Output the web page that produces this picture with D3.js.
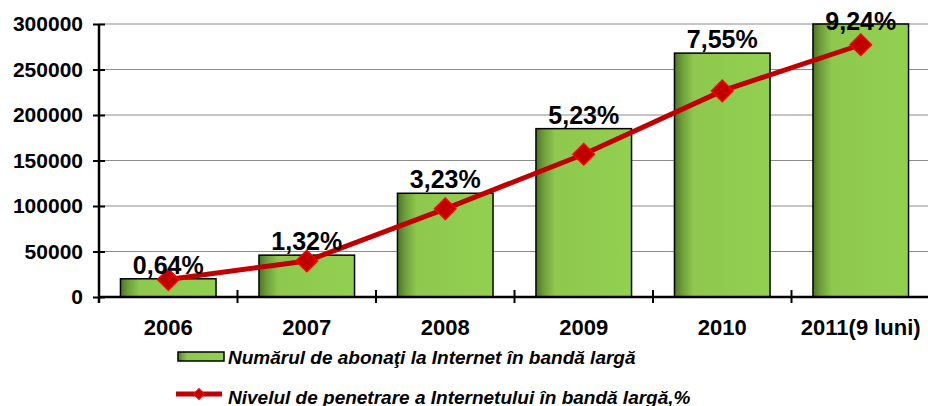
<!DOCTYPE html>
<html>
<head>
<meta charset="utf-8">
<script src="https://cdn.jsdelivr.net/npm/d3@7"></script>
<style>
  body { margin: 0; background: #fff; }
  svg { display: block; font-family: Arial, "Liberation Sans", sans-serif; }
</style>
</head>
<body>
<script>
const years = ["2006", "2007", "2008", "2009", "2010", "2011(9 luni)"];
const subscribers = [20000, 46000, 114000, 185000, 268000, 300000];
const penetration = [0.64, 1.32, 3.23, 5.23, 7.55, 9.24];
const penetrationLabels = ["0,64%", "1,32%", "3,23%", "5,23%", "7,55%", "9,24%"];
const yTicks = [0, 50000, 100000, 150000, 200000, 250000, 300000];
const legendLabels = [
  "Numărul de abonaţi la Internet în bandă largă",
  "Nivelul de penetrare a Internetului în bandă largă,%"
];

const width = 928;
const height = 406;
const margin = { top: 24, right: -2, bottom: 109, left: 99 };

const svg = d3.select("body")
  .append("svg")
  .attr("width", width)
  .attr("height", height);

const x = d3.scaleBand()
  .domain(years)
  .range([margin.left, width - margin.right])
  .paddingInner(0.31)
  .paddingOuter(0.155);

const y = d3.scaleLinear()
  .domain([0, 300000])
  .range([height - margin.bottom, margin.top]);

const y2 = d3.scaleLinear()
  .domain([0, 10])
  .range([height - margin.bottom, margin.top]);

// gradient for bars
const grad = svg.append("defs").append("linearGradient")
  .attr("id", "barGrad")
  .attr("x1", "0%").attr("x2", "100%")
  .attr("y1", "0%").attr("y2", "0%");
grad.append("stop").attr("offset", "0%").attr("stop-color", "#4a7428");
grad.append("stop").attr("offset", "8%").attr("stop-color", "#6e9e3a");
grad.append("stop").attr("offset", "20%").attr("stop-color", "#8ec84e");
grad.append("stop").attr("offset", "100%").attr("stop-color", "#92d050");

// gridlines
svg.append("g")
  .selectAll("line")
  .data(yTicks.slice(1))
  .join("line")
  .attr("x1", margin.left)
  .attr("x2", width)
  .attr("y1", d => y(d))
  .attr("y2", d => y(d))
  .attr("stroke", "#8c8c8c")
  .attr("stroke-width", 1);

// bars
svg.append("g")
  .selectAll("rect")
  .data(subscribers)
  .join("rect")
  .attr("x", (d, i) => x(years[i]))
  .attr("y", d => y(d))
  .attr("width", x.bandwidth())
  .attr("height", d => y(0) - y(d))
  .attr("fill", "url(#barGrad)")
  .attr("stroke", "#000")
  .attr("stroke-width", 1.5);

// y axis
const yAxis = svg.append("g")
  .attr("transform", `translate(${margin.left},0)`)
  .call(d3.axisLeft(y).tickValues(yTicks).tickFormat(d3.format("d"))
    .tickSize(6).tickSizeOuter(0).tickPadding(12));
yAxis.select(".domain").attr("stroke-width", 2.5).attr("d", `M0,${margin.top}V${y(0) + 6}`);
yAxis.selectAll(".tick line").attr("x2", -6).attr("x1", 6).attr("stroke-width", 2);
yAxis.selectAll(".tick text")
  .attr("font-size", 21)
  .attr("font-weight", "bold")
  .attr("fill", "#000")
  .attr("dx", 2);

// x axis
const boundaries = years.slice(1).map(d => x(d) - x.step() * x.paddingInner() / 2);
const xg = svg.append("g").attr("transform", `translate(0,${y(0)})`);
xg.append("line")
  .attr("x1", margin.left).attr("x2", width)
  .attr("stroke", "#000").attr("stroke-width", 2.5);
xg.selectAll(".btick")
  .data(boundaries)
  .join("line")
  .attr("class", "btick")
  .attr("x1", d => d).attr("x2", d => d)
  .attr("y1", -7).attr("y2", 6)
  .attr("stroke", "#000").attr("stroke-width", 2);
xg.selectAll("text")
  .data(years)
  .join("text")
  .attr("x", d => x(d) + x.bandwidth() / 2)
  .attr("y", 38)
  .attr("text-anchor", "middle")
  .attr("font-size", 22)
  .attr("font-weight", "bold")
  .text(d => d);

// line
const line = d3.line()
  .x((d, i) => x(years[i]) + x.bandwidth() / 2)
  .y(d => y2(d));

svg.append("path")
  .datum(penetration)
  .attr("d", line)
  .attr("fill", "none")
  .attr("stroke", "#c00000")
  .attr("stroke-width", 5);

const diamond = d3.symbol().type(d3.symbolSquare).size(230);
svg.append("g")
  .selectAll("path")
  .data(penetration)
  .join("path")
  .attr("d", diamond)
  .attr("transform", (d, i) => `translate(${x(years[i]) + x.bandwidth() / 2},${y2(d)}) rotate(45)`)
  .attr("fill", "#c00000")
  .attr("stroke", "#ff0000")
  .attr("stroke-width", 1.5);

// data labels (above the bars)
svg.append("g")
  .selectAll("text")
  .data(penetrationLabels)
  .join("text")
  .attr("x", (d, i) => x(years[i]) + x.bandwidth() / 2)
  .attr("y", (d, i) => Math.max(y(subscribers[i]) - 5, 30))
  .attr("text-anchor", "middle")
  .attr("font-size", 25)
  .attr("font-weight", "bold")
  .text(d => d);

// legend
const lg = svg.append("g");
lg.append("rect")
  .attr("x", 178).attr("y", 352)
  .attr("width", 46).attr("height", 9)
  .attr("fill", "url(#barGrad)")
  .attr("stroke", "#000").attr("stroke-width", 1.5);
lg.append("line")
  .attr("x1", 176).attr("x2", 222)
  .attr("y1", 394).attr("y2", 394)
  .attr("stroke", "#c00000").attr("stroke-width", 5);
lg.append("path")
  .attr("d", d3.symbol().type(d3.symbolSquare).size(60))
  .attr("transform", "translate(199,394) rotate(45)")
  .attr("fill", "#c00000")
  .attr("stroke", "#ff0000");
lg.selectAll("text")
  .data(legendLabels)
  .join("text")
  .attr("x", 228)
  .attr("y", (d, i) => 364 + i * 40)
  .attr("font-size", 19)
  .attr("font-weight", "bold")
  .attr("font-style", "italic")
  .text(d => d);
</script>
</body>
</html>
